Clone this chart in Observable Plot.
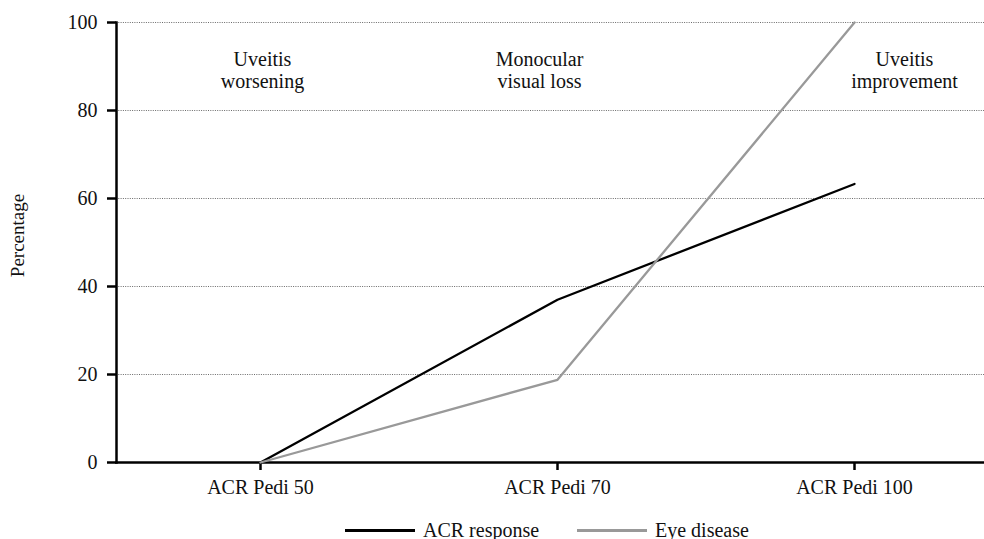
<!DOCTYPE html>
<html><head><meta charset="utf-8">
<script src="https://cdn.jsdelivr.net/npm/d3@7"></script>
<script src="https://cdn.jsdelivr.net/npm/@observablehq/plot@0.6"></script>
<style>
body{margin:0;background:#fff;font-family:"Liberation Serif",serif;}
#legend{position:relative;height:40px;width:984px;font-size:20px;color:#111;}
.item{position:absolute;top:0;height:40px;display:flex;align-items:center;}
.sw{display:inline-block;width:70px;height:0;border-top:3px solid;margin-right:8px;}
</style></head><body>
<div id="chart"></div>
<div id="legend"></div>
<script>
const categories = ["ACR Pedi 50", "ACR Pedi 70", "ACR Pedi 100"];
const acrResponse = [0, 37, 63.3];
const eyeDisease = [0, 18.8, 100];
const yTicks = [0, 20, 40, 60, 80, 100];
const gridTicks = [20, 40, 60, 80, 100];
const seriesNames = ["ACR response", "Eye disease"];
const seriesColors = ["#000000", "#999999"];
const annotationCats = ["ACR Pedi 50", "ACR Pedi 70", "ACR Pedi 100"];
const annotationTexts = ["Uveitis\nworsening", "Monocular\nvisual loss", "Uveitis\nimprovement"];
const annotationDx = [2, -18, 50];

const rows = [];
categories.forEach((c, i) => {
  rows.push({cat: c, value: acrResponse[i], series: seriesNames[0]});
  rows.push({cat: c, value: eyeDisease[i], series: seriesNames[1]});
});

const annoMarks = annotationCats.map((c, i) =>
  Plot.text([{cat: c, text: annotationTexts[i]}], {
    x: "cat", y: () => 100, text: "text", dx: annotationDx[i], dy: 28,
    fontSize: 20, lineHeight: 1.1, lineAnchor: "top", fill: "#111"
  })
);

const chart = Plot.plot({
  width: 984,
  height: 510,
  marginLeft: 116,
  marginRight: 0,
  marginTop: 22,
  marginBottom: 48,
  style: {fontFamily: "'Liberation Serif', serif", fontSize: "20px", color: "#111", background: "#fff"},
  x: {type: "point", domain: categories, range: [260, 854], padding: 0, label: null},
  y: {domain: [0, 100], label: null},
  color: {domain: seriesNames, range: seriesColors},
  marks: [
    Plot.ruleY(gridTicks, {stroke: "#444", strokeWidth: 0.8, strokeDasharray: "1,1.3"}),
    Plot.axisY(yTicks, {tickSize: 9, tickPadding: 10, strokeWidth: 2.5, stroke: "#000", label: null, fontSize: 20}),
    Plot.axisX({tickSize: 8, tickPadding: 9, strokeWidth: 2.5, stroke: "#000", label: null, fontSize: 20}),
    Plot.text(["Percentage"], {frameAnchor: "left", textAnchor: "middle", dx: -99, dy: -7, rotate: -90, fontSize: 19, fill: "#111"}),
    Plot.frame({anchor: "left", stroke: "#000", strokeWidth: 2.5}),
    Plot.frame({anchor: "bottom", stroke: "#000", strokeWidth: 2.5}),
    ...annoMarks,
    Plot.line(rows, {x: "cat", y: "value", z: "series", stroke: "series", strokeWidth: 2.3})
  ]
});
document.getElementById("chart").append(chart);

const lg = document.getElementById("legend");
const lefts = [345, 577];
seriesNames.forEach((s, i) => {
  const it = document.createElement("div");
  it.className = "item";
  it.style.left = lefts[i] + "px";
  it.innerHTML = `<span class="sw" style="border-color:${seriesColors[i]}"></span><span>${s}</span>`;
  lg.append(it);
});
</script></body></html>
